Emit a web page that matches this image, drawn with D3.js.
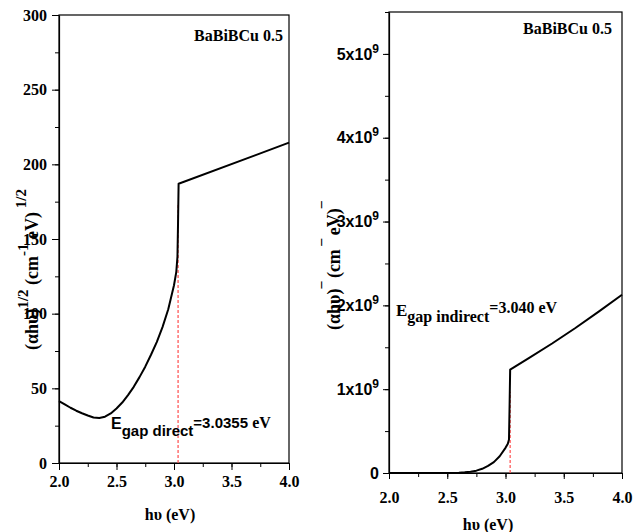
<!DOCTYPE html>
<html><head><meta charset="utf-8">
<script src="https://cdn.jsdelivr.net/npm/d3@7"></script>
<style>body{margin:0;background:#fff}svg{display:block}</style>
</head><body>
<svg id="c" width="641" height="532"></svg>
<script>
// ---- data ----
const energyDirect = [2.0,2.05,2.1,2.15,2.2,2.25,2.3,2.35,2.4,2.45,2.5,2.55,2.6,2.65,2.7,2.75,2.8,2.85,2.9,2.95,3.0,3.02,3.03,3.035,3.04,4.0];
const alphaDirect  = [41.5,39.2,37,35,33.3,31.8,30.5,30.1,31,33.2,36.5,40.5,45.5,51,57.5,64.5,72.5,81,91,103,119,128,138,160,187,214.5];
const energyIndirect = [2.0,2.5,2.6,2.65,2.7,2.75,2.8,2.85,2.9,2.95,3.0,3.02,3.03,3.035,3.04,3.2,3.4,3.6,3.8,4.0];
const alphaIndirect  = [0,0.001e9,0.004e9,0.008e9,0.015e9,0.028e9,0.05e9,0.085e9,0.13e9,0.2e9,0.3e9,0.35e9,0.4e9,0.8e9,1.233e9,1.37e9,1.545e9,1.73e9,1.925e9,2.127e9];
const xTicks = [2.0,2.5,3.0,3.5,4.0];
const yTicksDirect = [0,50,100,150,200,250,300];
const yTicksIndirect = [0,1e9,2e9,3e9,4e9,5e9];
const sampleLabel = "BaBiBCu 0.5";
const gapDirect = 3.0355, gapIndirect = 3.040;

const svg = d3.select("#c");
const serif = "'Liberation Serif','Times New Roman',serif";
const sans = "'Liberation Sans',Arial,sans-serif";

function panel(o){
  const g = svg.append("g");
  const x = d3.scaleLinear().domain([2,4]).range([o.left,o.right]);
  const y = d3.scaleLinear().domain(o.ydom).range([o.bottom,o.top]);
  g.append("rect").attr("x",o.left).attr("y",o.top).attr("width",o.right-o.left).attr("height",o.bottom-o.top)
   .attr("fill","none").attr("stroke","#000").attr("stroke-width",1.2);
  const xm = d3.range(2,4.001,0.25);
  g.append("g").attr("transform",`translate(0,${o.bottom})`)
   .call(d3.axisBottom(x).tickValues(xm).tickSize(4).tickSizeOuter(0).tickFormat(""))
   .call(s=>s.select(".domain").remove());
  g.append("g").attr("transform",`translate(${o.left},0)`)
   .call(d3.axisLeft(y).tickValues(o.yminor).tickSize(4).tickSizeOuter(0).tickFormat(""))
   .call(s=>s.select(".domain").remove());
  const ax = g.append("g").attr("transform",`translate(0,${o.bottom})`)
   .call(d3.axisBottom(x).tickValues(xTicks).tickSize(o.tickLen).tickSizeOuter(0).tickFormat(d3.format(".1f")).tickPadding(o.xpad));
  ax.select(".domain").attr("stroke-width",1.2);
  ax.selectAll("text").attr("font-family",serif).attr("font-weight","bold").attr("font-size",16).attr("fill","#000");
  const ay = g.append("g").attr("transform",`translate(${o.left},0)`)
   .call(d3.axisLeft(y).tickValues(o.yticks).tickSize(o.tickLen).tickSizeOuter(0).tickPadding(o.ypad));
  ay.select(".domain").attr("stroke-width",1.2);
  ay.selectAll("text").attr("font-weight","bold").attr("fill","#000");
  o.yfmt(ay.selectAll("text"));
  g.append("line").attr("x1",x(o.gap)).attr("x2",x(o.gap)).attr("y1",y(0)).attr("y2",y(o.gapTop))
   .attr("stroke","#ff5a5a").attr("stroke-width",1.3).attr("stroke-dasharray","3,2");
  const line = d3.line().x(d=>x(d[0])).y(d=>y(d[1])).curve(d3.curveLinear);
  g.append("path").datum(o.ex.map((e,i)=>[e,o.ey[i]])).attr("d",line)
   .attr("fill","none").attr("stroke","#000").attr("stroke-width",2).attr("stroke-linejoin","round");
  g.append("text").attr("x",o.right-o.labOff).attr("y",o.labY).attr("text-anchor","end")
   .attr("font-family",serif).attr("font-weight","bold").attr("font-size",16).text(sampleLabel);
  g.append("text").attr("x",o.xlabX).attr("y",o.xlabY).attr("text-anchor","middle")
   .attr("font-family",serif).attr("font-weight","bold").attr("font-size",16).text("h\u03C5 (eV)");
  return {g,x,y};
}

// left panel
const L = panel({left:59,right:289,top:15,bottom:463,ydom:[0,300],yticks:yTicksDirect,
  yminor:d3.range(0,301,25),tickLen:7,xpad:6,ypad:5,gap:gapDirect,gapTop:174,
  ex:energyDirect,ey:alphaDirect,xlabX:170,xlabY:520,labOff:6,labY:41,
  yfmt:s=>s.attr("font-family",serif).attr("font-size",16).text(d=>d3.format("d")(d))});
{
  const t = L.g.append("text").attr("x",111).attr("y",429).attr("font-weight","bold").attr("font-size",16);
  t.append("tspan").attr("font-family",sans).text("E");
  t.append("tspan").attr("font-family",sans).attr("dy",7).attr("font-size",15).text("gap direct");
  t.append("tspan").attr("font-family",sans).attr("dy",-8).attr("font-size",15).text("=3.0355 ");
  t.append("tspan").attr("font-family",serif).attr("font-size",16).text("eV");
}
{
  const t = L.g.append("text").attr("transform","translate(38,350) rotate(-90)").attr("text-anchor","start")
   .attr("font-family",serif).attr("font-weight","bold").attr("font-size",18);
  t.append("tspan").text("(\u03B1h\u03C5)");
  t.append("tspan").attr("dy",-10).attr("font-size",15).text("1/2");
  t.append("tspan").attr("dy",10).text(" (cm");
  t.append("tspan").attr("dy",-10).attr("font-size",15).text("-1");
  t.append("tspan").attr("dy",10).text(" eV)");
  t.append("tspan").attr("dy",-12).attr("font-size",15).text(" 1/2");
}

// right panel
const R = panel({left:389,right:622,top:12,bottom:473,ydom:[0,5.5e9],yticks:yTicksIndirect,
  yminor:d3.range(0,5.51e9,0.5e9),tickLen:6,xpad:13,ypad:4,gap:gapIndirect,gapTop:0.97e9,
  ex:energyIndirect,ey:alphaIndirect,xlabX:488,xlabY:530,labOff:10,labY:34,
  yfmt:s=>{
    s.attr("font-family",sans).attr("font-size",16).text(null);
    s.each(function(d){
      const el = d3.select(this);
      if(d===0){ el.text("0"); return; }
      el.append("tspan").text(d3.format("d")(d/1e9)+"x10");
      el.append("tspan").attr("dy",-7).attr("font-size",12).text("9");
    });
  }});
{
  const t = R.g.append("text").attr("x",396).attr("y",316).attr("font-family",serif).attr("font-weight","bold").attr("font-size",17);
  t.append("tspan").text("E");
  t.append("tspan").attr("dy",6).attr("font-size",16).text("gap indirect");
  t.append("tspan").attr("dy",-9).attr("font-size",16).text("=3.040 eV");
}
{
  const t = R.g.append("text").attr("transform","translate(340,330) rotate(-90)").attr("text-anchor","start")
   .attr("font-family",serif).attr("font-weight","bold").attr("font-size",18);
  t.append("tspan").text("(\u03B1h\u03C5)");
  t.append("tspan").attr("dy",-8).attr("font-size",14).text("\u00AF ");
  t.append("tspan").attr("dy",8).text("(cm");
  t.append("tspan").attr("dy",-8).attr("font-size",14).text(" \u00AF ");
  t.append("tspan").attr("dy",8).text("eV)");
  t.append("tspan").attr("dy",-8).attr("font-size",14).text("\u00AF");
}
</script>
</body></html>
